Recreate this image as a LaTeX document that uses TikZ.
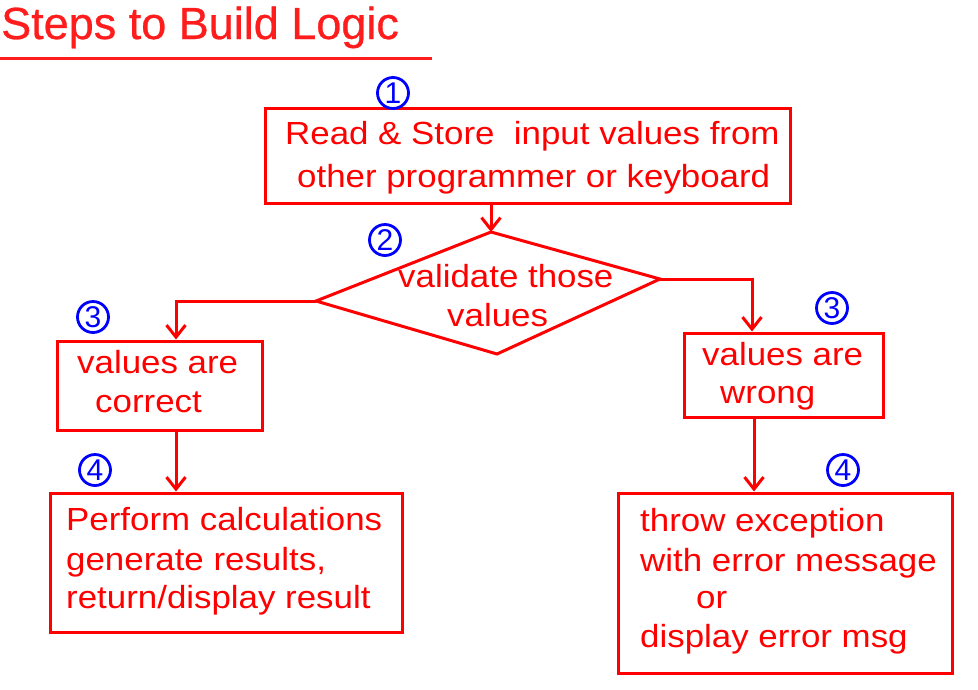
\documentclass[tikz,border=0pt]{standalone}
\usepackage{fontspec}
\setmainfont{Liberation Sans}
\newfontfamily\boxfont{Liberation Sans}[FakeStretch=1.09]
\newfontfamily\titlefont{Liberation Sans}[FakeBold=0.6]
\usetikzlibrary{arrows.meta}
\definecolor{fred}{RGB}{255,0,0}
\definecolor{tred}{RGB}{255,28,28}
\definecolor{nblue}{RGB}{0,0,255}
\begin{document}
\begin{tikzpicture}[x=1pt,y=-1pt,
  boxstyle/.style={draw=fred,line width=3pt,rectangle,inner sep=0pt},
  txt/.style={text=fred,anchor=base west,inner sep=0pt,font=\boxfont\fontsize{32}{38}\selectfont},
  num/.style={circle,draw=nblue,line width=2.8pt,minimum size=31pt,inner sep=0pt,text=nblue,font=\fontsize{30}{30}\selectfont},
  conn/.style={draw=fred,line width=3pt},
  arr/.style={conn,-{Straight Barb[length=12pt,width=19pt,line width=3pt]}}]
\useasboundingbox (0,0) rectangle (978,689);
% title
\node[anchor=base west,inner sep=0pt,text=tred,font=\titlefont\fontsize{45}{50}\selectfont] (title) at (1,39) {Steps to Build Logic};
\coordinate (ulA) at (0,58);
\coordinate (ulB) at (432,58);
\draw[tred,line width=3pt] (ulA) -- (ulB);
% boxes
\node[boxstyle,minimum width=525pt,minimum height=95pt] (b1) at (527.5,155.5) {};
\node[boxstyle,minimum width=205pt,minimum height=89pt] (bcl) at (159.5,385.5) {};
\node[boxstyle,minimum width=199pt,minimum height=84pt] (bwr) at (783.5,375) {};
\node[boxstyle,minimum width=352pt,minimum height=139pt] (b4l) at (226,562.5) {};
\node[boxstyle,minimum width=334pt,minimum height=180pt] (b4r) at (785,583) {};
% diamond
\coordinate (dT) at (491,232);
\coordinate (dL) at (316,301);
\coordinate (dB) at (497,354);
\coordinate (dR) at (660,279);
\draw[conn,line join=miter] (dT) -- (dR) -- (dB) -- (dL) -- cycle;
% texts
\node[txt] (t1a) at (285,144) {Read \& Store\ \ input values from};
\node[txt] (t1b) at (297,187) {other programmer or keyboard};
\node[txt] (t2a) at (398,287) {validate those};
\node[txt] (t2b) at (447,326) {values};
\node[txt] (t3a) at (77,373) {values are};
\node[txt] (t3b) at (95,412) {correct};
\node[txt] (t3c) at (702,365) {values are};
\node[txt] (t3d) at (720,403) {wrong};
\node[txt] (t4a) at (66,530) {Perform calculations};
\node[txt] (t4b) at (66,570) {generate results,};
\node[txt] (t4c) at (66,608) {return/display result};
\node[txt] (t4d) at (640,531) {throw exception};
\node[txt] (t4e) at (640,571) {with error message};
\node[txt] (t4f) at (696,608) {or};
\node[txt] (t4g) at (640,647) {display error msg};
% numbers
\node[num] (n1) at (393,93) {1};
\node[num] (n2) at (385,240) {2};
\node[num] (n3l) at (93,317) {3};
\node[num] (n3r) at (832,308) {3};
\node[num] (n4l) at (95,470) {4};
\node[num] (n4r) at (843,470) {4};
% connectors
\draw[arr] (b1.south -| dT) -- (dT);
\draw[arr] (dL) -| (bcl.north -| 176,0);
\draw[arr] (dR) -| (bwr.north -| 752,0);
\draw[arr] (bcl.south -| 176,0) -- (b4l.north -| 176,0);
\draw[arr] (bwr.south -| 754,0) -- (b4r.north -| 754,0);
\end{tikzpicture}
\end{document}
